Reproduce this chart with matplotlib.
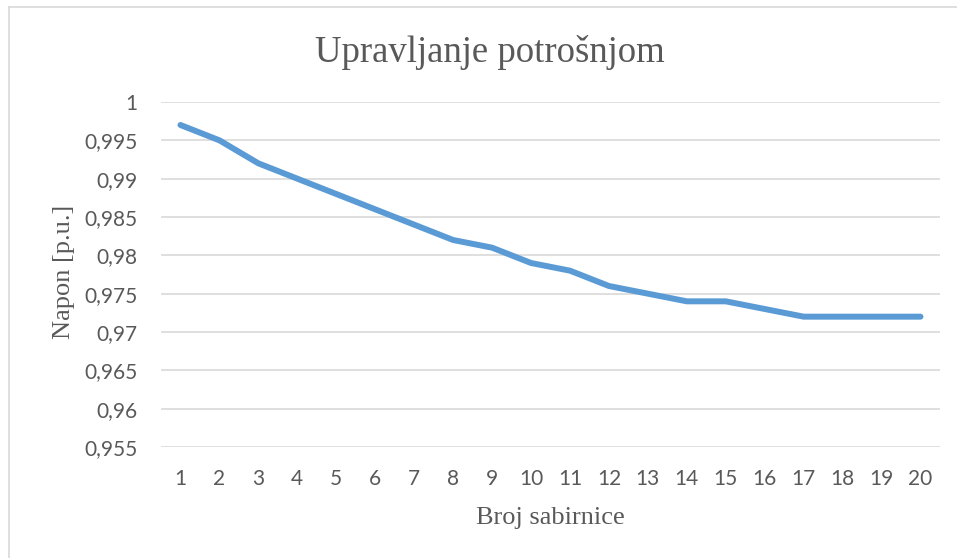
import matplotlib
matplotlib.use("Agg")
import matplotlib.pyplot as plt
from matplotlib.lines import Line2D
from matplotlib.ticker import FuncFormatter

# Data
bus = list(range(1, 21))
voltage = [0.997, 0.995, 0.992, 0.990, 0.988, 0.986, 0.984, 0.982, 0.981, 0.979,
           0.978, 0.976, 0.975, 0.974, 0.974, 0.973, 0.972, 0.972, 0.972, 0.972]
y_ticks = [0.955, 0.96, 0.965, 0.97, 0.975, 0.98, 0.985, 0.99, 0.995, 1.0]

LINE_COLOR = "#5B9BD5"
TEXT_COLOR = "#595959"
GRID_COLOR = "#D9D9D9"

W, H = 957, 558
fig = plt.figure(figsize=(W / 100, H / 100), dpi=100)
fig.patch.set_facecolor("white")

# plot area in pixels: left 161, right 940, top 102, bottom 447
ax = fig.add_axes([161 / W, (H - 447) / H, (940 - 161) / W, (447 - 102) / H])

ax.plot(bus, voltage, color=LINE_COLOR, linewidth=4.3,
        solid_capstyle="round", solid_joinstyle="round", zorder=3)

ax.set_xlim(0.5, 20.5)
ax.set_ylim(0.955, 1.0)
ax.set_xticks(bus)
ax.set_yticks(y_ticks)


def comma_fmt(v, pos):
    s = f"{v:.3f}".rstrip("0").rstrip(".")
    return s.replace(".", ",")


ax.yaxis.set_major_formatter(FuncFormatter(comma_fmt))
ax.grid(axis="y", color=GRID_COLOR, linewidth=1.2, zorder=0)
ax.grid(axis="x", visible=False)
for sp in ax.spines.values():
    sp.set_visible(False)

ax.tick_params(axis="both", length=0, labelsize=15, labelcolor=TEXT_COLOR)
ax.tick_params(axis="y", pad=17)
ax.tick_params(axis="x", pad=16)
for lbl in ax.get_xticklabels() + ax.get_yticklabels():
    lbl.set_fontfamily("Lato")

serif = "Liberation Serif"
ax.set_title("Upravljanje potrošnjom", fontsize=26.5, color=TEXT_COLOR,
             fontfamily=serif, x=(490 - 161) / 779, y=(447 - 62) / 345,
             va="baseline", pad=0)
ax.set_xlabel("Broj sabirnice", fontsize=19, color=TEXT_COLOR, fontfamily=serif)
ax.xaxis.set_label_coords((550 - 161) / 779, (447 - 524) / 345)
ax.xaxis.label.set_va("baseline")
ax.set_ylabel("Napon [p.u.]", fontsize=19, color=TEXT_COLOR, fontfamily=serif)
ax.yaxis.set_label_coords((75 - 161) / 779, (447 - 272) / 345)

# chart area border (top and left edges visible)
fig.add_artist(Line2D([9 / W, 1], [1 - 7 / H, 1 - 7 / H], color=GRID_COLOR,
                      linewidth=1.2, transform=fig.transFigure))
fig.add_artist(Line2D([9 / W, 9 / W], [0, 1 - 7 / H], color=GRID_COLOR,
                      linewidth=1.2, transform=fig.transFigure))

fig.savefig("out.png", dpi=100, facecolor="white")
